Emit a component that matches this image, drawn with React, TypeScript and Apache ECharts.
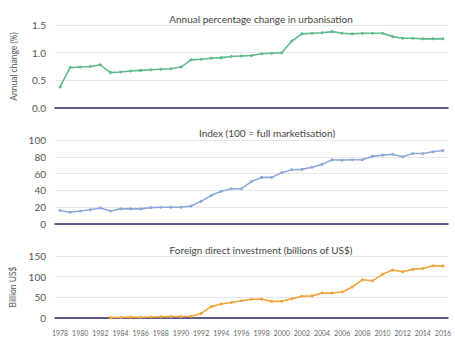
import React, { useEffect, useRef } from "react";
import * as echarts from "echarts";

const years: string[] = [];
for (let y = 1978; y <= 2016; y++) years.push(String(y));

const urbanisation = [
  0.38, 0.73, 0.74, 0.75, 0.78, 0.64, 0.65, 0.67, 0.68, 0.69, 0.7, 0.71, 0.74,
  0.87, 0.88, 0.9, 0.91, 0.93, 0.94, 0.95, 0.98, 0.99, 1.0, 1.21, 1.34, 1.35,
  1.36, 1.38, 1.35, 1.34, 1.35, 1.35, 1.35, 1.29, 1.26, 1.26, 1.25, 1.25, 1.25,
];

const marketIndex = [
  16, 14, 15.5, 17, 19, 15.5, 18, 18, 18, 19.5, 20, 20, 20, 21.5, 27, 34, 39,
  42, 42, 50.5, 55.5, 55.5, 61, 64.5, 65, 67.5, 71, 76.5, 76, 76.5, 76.5, 80.5,
  82, 83, 80, 84, 84, 86, 87.5,
];

const fdi = [
  null, null, null, null, null, 0.9, 1.3, 2, 1.9, 2.3, 3.2, 3.4, 3.5, 4.4, 11,
  27.5, 33.8, 37.5, 41.7, 45.3, 45.5, 40.3, 40.7, 46.9, 52.7, 53.5, 60.6, 60.3,
  63, 74.8, 92.4, 90, 105.7, 116, 111.7, 117.6, 119.6, 126.3, 126,
];

const titles = [
  "Annual percentage change in urbanisation",
  "Index (100 = full marketisation)",
  "Foreign direct investment (billions of US$)",
];

const colors = ["#5fba8c", "#8ea9d7", "#f0a43a"];

export default function App() {
  const ref = useRef<HTMLDivElement>(null);
  useEffect(() => {
    if (!ref.current) return;
    const chart = echarts.init(ref.current, undefined, { renderer: "svg" });
    const font = "Lato, 'Noto Sans', sans-serif";
    const grids = [
      { left: 55, right: 7, top: 25, height: 83 },
      { left: 55, right: 7, top: 140, height: 84 },
      { left: 55, right: 7, top: 256, height: 62 },
    ];
    const titleTops = [9, 123, 240];
    const yCfg = [
      { min: 0, max: 1.5, interval: 0.5, name: "Annual change (%)", fmt: (v: number) => v.toFixed(1) },
      { min: 0, max: 100, interval: 20, name: "", fmt: (v: number) => String(v) },
      { min: 0, max: 150, interval: 50, name: "Billion US$", fmt: (v: number) => String(v) },
    ];
    const dataSets = [urbanisation, marketIndex, fdi];
    chart.setOption({
      animation: false,
      backgroundColor: "#ffffff",
      title: titles.map((t, i) => ({
        text: t,
        left: i === 1 ? 262 : 256,
        top: titleTops[i],
        textAlign: "center",
        textStyle: { fontSize: 10, fontWeight: "normal", color: "#444", fontFamily: font },
      })),
      grid: grids,
      xAxis: grids.map((_, i) => ({
        type: "category",
        gridIndex: i,
        data: years,
        boundaryGap: true,
        axisLine: { show: true, lineStyle: { color: "#2b2d6e", width: 1.5 } },
        axisTick: { show: false },
        axisLabel: {
          show: i === 2,
          interval: 1,
          fontSize: 7,
          color: "#666",
          margin: 11,
          fontFamily: font,
        },
      })),
      yAxis: yCfg.map((c, i) => ({
        type: "value",
        gridIndex: i,
        min: c.min,
        max: c.max,
        interval: c.interval,
        name: c.name,
        nameLocation: "middle",
        nameGap: 37,
        nameRotate: 90,
        nameTextStyle: { fontSize: 8.5, color: "#555", fontFamily: font },
        axisLine: { show: false },
        axisTick: { show: false },
        axisLabel: {
          formatter: c.fmt,
          fontSize: 10,
          color: "#555",
          margin: 9,
          fontFamily: font,
        },
        splitLine: { lineStyle: { color: "#e6e6ec", width: 1 } },
      })),
      series: dataSets.map((d, i) => ({
        type: "line",
        xAxisIndex: i,
        yAxisIndex: i,
        data: d,
        connectNulls: false,
        symbol: "circle",
        symbolSize: 3,
        itemStyle: { color: colors[i] },
        lineStyle: { color: colors[i], width: 1.6 },
      })),
    });
    return () => chart.dispose();
  }, []);
  return <div ref={ref} style={{ width: 455, height: 350, position: "absolute", left: 0, top: 0 }} />;
}
